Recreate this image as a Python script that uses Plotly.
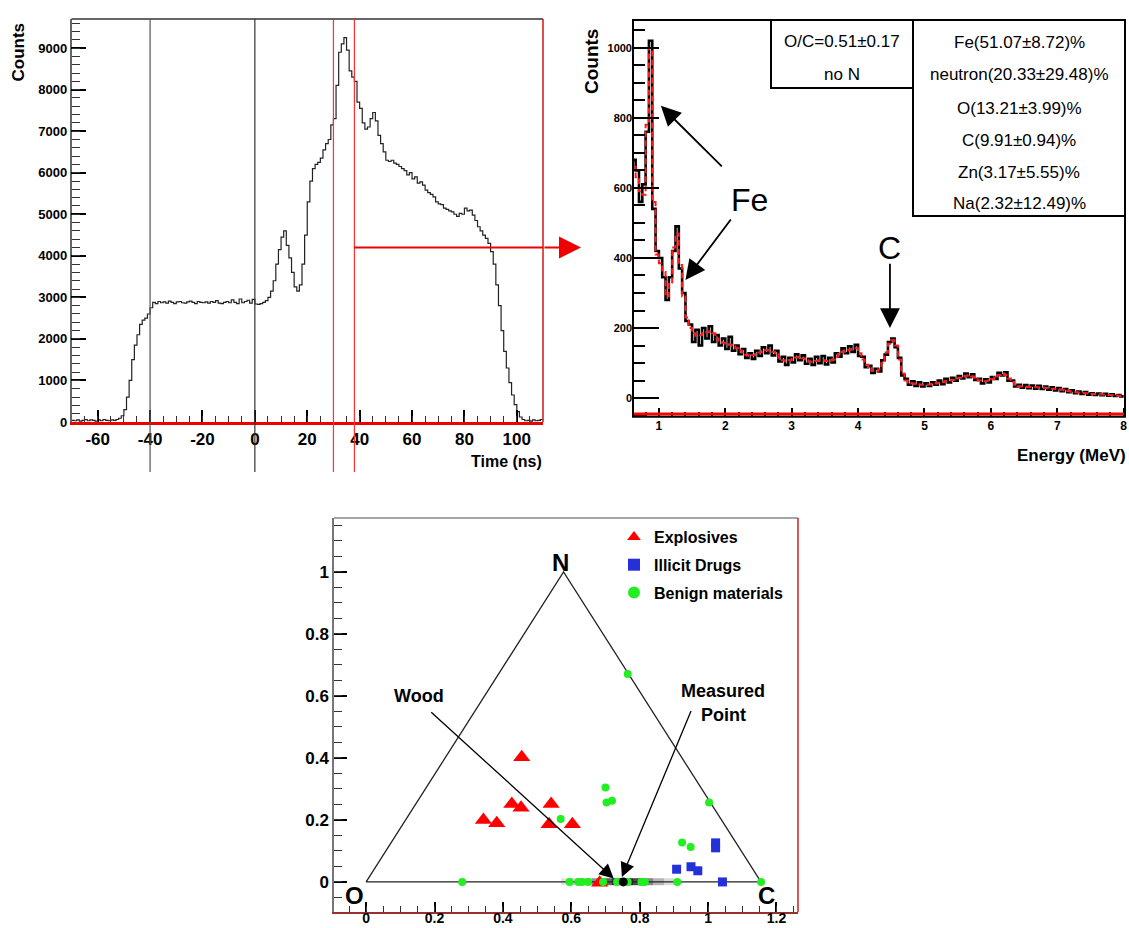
import numpy as np
import plotly.graph_objects as go

W, H = 1129, 928
def px(x): return x / W
def py(y): return 1 - y / H

# ---------------- Panel 1 : time spectrum (1 ns bins starting at -70 ns) ----------------
time_counts = [
    40, 30, 50, 20, 40, 60, 30, 50, 40, 20, 50, 30, 60, 40, 30, 50, 40, 60,
    90, 150, 300, 600, 1000, 1500, 1850, 2100, 2350, 2450, 2500, 2600, 2750, 2880,
    2850, 2900, 2870, 2890, 2860, 2910, 2880, 2850, 2890, 2900, 2870, 2860, 2890, 2910, 2880, 2850,
    2900, 2880, 2870, 2890, 2860, 2900, 2880, 2920, 2860, 2850, 2880, 2900, 2870, 2940, 2880, 2850,
    2960, 2870, 2900, 2930, 2860, 2950,
    2840, 2830, 2850, 2880, 2920, 3000, 3150, 3400, 3800, 4150, 4450, 4600, 4250, 3950, 3600, 3250,
    3150, 3300, 3800, 4500, 5300, 5800, 6100, 6200, 6250, 6350, 6550, 6700, 6800, 7150, 7300, 8100,
    8900, 9100, 9250, 8950, 8450, 8300, 8200, 7700, 7550, 7200, 7050, 7100, 7300, 7450, 7250, 6900,
    6700, 6500, 6300, 6270, 6300, 6230, 6200, 6150, 6100, 6050, 5950, 6000, 5850, 5900, 5750, 5780,
    5700, 5580, 5520, 5480, 5420, 5300, 5250, 5230, 5150, 5120, 5080, 5060, 5000, 4950, 5020, 5000,
    5150, 5080, 5100, 4980, 4850, 4700, 4600, 4500, 4420, 4300, 4100, 3800, 3300, 2800, 2200, 1700,
    1300, 950, 650, 420, 250, 120, 60, 30,
    40, 20, 50, 30, 40, 60,
]
time_start = -70
time_edges = list(range(time_start, time_start + len(time_counts) + 1))
time_black_lines = [-40, 0]
time_red_lines = [30, 38]
time_gate_level = 4200
time_ticks = [-60, -40, -20, 0, 20, 40, 60, 80, 100]
time_ticktext = ["-60", "-40", "-20", "0", "20", "40", "60", "80", "100"]

# ---------------- Panel 2 : energy spectrum (0.05 MeV bins from 0.60 MeV) ----------------
energy_data = [
    680, 650, 560, 610, 760, 1020, 540, 420,
    400, 345, 280, 345, 420, 490, 370, 300, 220, 210,
    160, 195, 150, 200, 170, 205, 160, 180, 150, 170,
    140, 175, 135, 150, 125, 140, 115, 128, 112, 135,
    120, 145, 128, 150, 122, 135, 105, 118, 95, 115,
    102, 125, 108, 122, 98, 112, 95, 118, 100, 120,
    96, 115, 102, 128, 118, 142, 128, 148, 132, 152,
    120, 118, 88, 92, 72, 84, 76, 108, 124, 160,
    170, 145, 115, 65, 55, 38, 48, 35, 45, 33,
    42, 35, 45, 38, 50, 40, 55, 45, 58, 50,
    63, 56, 70, 60, 68, 52, 55, 42, 54, 45,
    60, 55, 72, 65, 74, 50, 50, 33, 38, 30,
    37, 28, 36, 27, 35, 26, 33, 24, 31, 22,
    29, 20, 26, 17, 22, 14, 19, 12, 17, 10,
    14, 9, 13, 8, 12, 7, 11, 6, 9, 5,
]
energy_fit = [
    660, 630, 590, 580, 780, 1000, 560, 410,
    385, 360, 290, 330, 430, 470, 380, 290, 230, 200,
    185, 178, 180, 185, 188, 190, 185, 170, 160, 158,
    155, 152, 148, 142, 136, 130, 124, 120, 122, 126,
    130, 134, 137, 136, 132, 125, 115, 108, 105, 108,
    112, 116, 118, 114, 108, 104, 104, 106, 108, 108,
    106, 106, 110, 118, 126, 132, 136, 138, 140, 142,
    128, 110, 95, 85, 78, 76, 82, 100, 130, 155,
    165, 150, 110, 70, 50, 44, 42, 40, 39, 38,
    38, 39, 40, 42, 44, 46, 48, 50, 52, 55,
    58, 62, 64, 65, 62, 56, 50, 48, 48, 50,
    54, 60, 66, 70, 66, 56, 46, 38, 34, 33,
    33, 32, 32, 31, 31, 30, 29, 28, 27, 26,
    25, 24, 22, 20, 18, 17, 16, 15, 14, 13,
    12, 11, 11, 10, 10, 9, 9, 8, 7, 6,
]
e_start, e_width = 0.60, 0.05
energy_edges = [round(e_start + e_width * i, 3) for i in range(len(energy_data) + 1)]
box1_lines = ["O/C=0.51±0.17", "no N"]
box2_lines = ["Fe(51.07±8.72)%", "neutron(20.33±29.48)%", "O(13.21±3.99)%",
              "C(9.91±0.94)%", "Zn(3.17±5.55)%", "Na(2.32±12.49)%"]

# ---------------- Panel 3 : ternary O-N-C diagram ----------------
tri_x = [0.0, 2 / np.sqrt(3), 1 / np.sqrt(3), 0.0]
tri_y = [0.0, 0.0, 1.0, 0.0]
explosives_x = [0.455, 0.343, 0.382, 0.426, 0.453, 0.541, 0.535, 0.603, 0.683]
explosives_y = [0.402, 0.200, 0.189, 0.251, 0.239, 0.251, 0.186, 0.186, -0.003]
drugs_x = [1.022, 1.022, 0.908, 0.950, 0.970, 1.042]
drugs_y = [0.126, 0.110, 0.041, 0.049, 0.036, 0.000]
benign_x = [0.765, 0.700, 0.703, 0.719, 0.569, 1.003, 0.924, 0.949,
            0.281, 0.595, 0.621, 0.631, 0.649, 0.693, 0.734, 0.765, 0.805, 0.815, 0.910, 1.155]
benign_y = [0.671, 0.305, 0.256, 0.262, 0.203, 0.256, 0.127, 0.113,
            0, 0, 0, 0, 0, 0, 0, 0, 0, 0, 0, 0]
measured_x = [0.752]
measured_y = [0.0]
band_edges = [0.57, 0.60, 0.63, 0.66, 0.69, 0.72, 0.75, 0.78, 0.81, 0.84, 0.87, 0.90]
band_z = [0.12, 0.2, 0.3, 0.45, 0.65, 0.85, 0.9, 0.75, 0.5, 0.3, 0.15]

# ---------------- geometry of the three frames (pixels) ----------------
P1 = dict(L=71.5, R=543, T=19, B=422)
P2 = dict(L=633, R=1125, T=20, B=416.7)
P3 = dict(L=334, R=798, T=518, B=912)
X1R, Y1R = [-70, 110], [0, 9700]
X2R, Y2R = [0.61, 8.02], [-53, 1079]
X3R, Y3R = [-0.094, 1.263], [-0.097, 1.174]

FONT = "Liberation Sans, Arial, sans-serif"
def bold(size, color="black"):
    return dict(family=FONT, size=size, color=color, weight="bold")

fig = go.Figure()

fig.add_trace(go.Scatter(
    x=time_edges, y=time_counts + [time_counts[-1]], mode="lines", line_shape="hv",
    line=dict(color="#222222", width=1.2), xaxis="x", yaxis="y", showlegend=False,
    hoverinfo="skip"))

fig.add_trace(go.Scatter(
    x=energy_edges, y=energy_data + [energy_data[-1]], mode="lines", line_shape="hv",
    line=dict(color="black", width=2.6), xaxis="x2", yaxis="y2", showlegend=False))
fig.add_trace(go.Scatter(
    x=energy_edges, y=energy_fit + [energy_fit[-1]], mode="lines", line_shape="hv",
    line=dict(color="#ff1a1a", width=2, dash="6px,3px"), xaxis="x2", yaxis="y2", showlegend=False))

fig.add_trace(go.Scatter(x=tri_x, y=tri_y, mode="lines", line=dict(color="#222222", width=1.3),
                         xaxis="x3", yaxis="y3", showlegend=False))
fig.add_trace(go.Heatmap(x=band_edges, y=[-0.012, 0.012], z=[band_z], xaxis="x3", yaxis="y3",
                         colorscale=[[0, "rgba(0,0,0,0)"], [1, "rgba(0,0,0,0.95)"]],
                         zmin=0, zmax=1, showscale=False, hoverinfo="skip"))
fig.add_trace(go.Scatter(x=explosives_x, y=explosives_y, mode="markers", name="Explosives",
                         marker=dict(symbol="triangle-up", size=15, color="#ff0000"),
                         xaxis="x3", yaxis="y3", legendgroup="a"))
fig.add_trace(go.Scatter(x=drugs_x, y=drugs_y, mode="markers", name="Illicit Drugs",
                         marker=dict(symbol="square", size=9, color="#2430d8"),
                         xaxis="x3", yaxis="y3", legendgroup="b"))
fig.add_trace(go.Scatter(x=benign_x, y=benign_y, mode="markers", name="Benign materials",
                         marker=dict(symbol="circle", size=8, color="#22ee22"),
                         xaxis="x3", yaxis="y3", legendgroup="c"))
fig.add_trace(go.Scatter(x=measured_x, y=measured_y, mode="markers", showlegend=False,
                         marker=dict(symbol="circle", size=9, color="black"),
                         xaxis="x3", yaxis="y3"))

# empty traces so that the minor-tick overlay axes are drawn
for xa, ya in [("x4", "y"), ("x", "y4"), ("x5", "y2"), ("x2", "y5"), ("x6", "y3"), ("x3", "y6")]:
    fig.add_trace(go.Scatter(x=[], y=[], xaxis=xa, yaxis=ya, showlegend=False, hoverinfo="skip"))

shapes = []
def pline(x0, y0, x1, y1, color, width):
    shapes.append(dict(type="line", xref="paper", yref="paper", x0=px(x0), y0=py(y0),
                       x1=px(x1), y1=py(y1), line=dict(color=color, width=width)))

pline(P1["L"], P1["T"], P1["R"], P1["T"], "#333333", 1.5)
pline(P1["R"], P1["T"], P1["R"], P1["B"], "#dd1111", 1.5)
for xv, col in [(time_black_lines[0], "#555555"), (time_black_lines[1], "#333333")]:
    shapes.append(dict(type="line", xref="x", yref="paper", x0=xv, x1=xv, y0=py(472), y1=py(19),
                       line=dict(color=col, width=1.2)))
for xv in time_red_lines:
    shapes.append(dict(type="line", xref="x", yref="paper", x0=xv, x1=xv, y0=py(472), y1=py(19),
                       line=dict(color="#ff3030", width=1.2)))
shapes.append(dict(type="line", xref="x", yref="y", x0=time_red_lines[1], x1=X1R[1],
                   y0=time_gate_level, y1=time_gate_level, line=dict(color="#ee0000", width=2)))

shapes.append(dict(type="line", xref="x2", yref="y2", x0=X2R[0], x1=X2R[1], y0=-45, y1=-45,
                   line=dict(color="#ff0000", width=3)))
shapes.append(dict(type="rect", xref="paper", yref="paper", x0=px(P2["L"]), x1=px(P2["R"]),
                   y0=py(P2["B"]), y1=py(P2["T"]), line=dict(color="black", width=2)))
shapes.append(dict(type="rect", xref="paper", yref="paper", x0=px(771), x1=px(913),
                   y0=py(88), y1=py(P2["T"]), line=dict(color="black", width=2),
                   fillcolor="white"))
shapes.append(dict(type="rect", xref="paper", yref="paper", x0=px(913), x1=px(P2["R"]),
                   y0=py(216), y1=py(P2["T"]), line=dict(color="black", width=2),
                   fillcolor="white"))

pline(P3["L"], P3["T"], P3["R"], P3["T"], "#888888", 1.5)
pline(P3["R"], P3["T"], P3["R"], P3["B"], "#cc2020", 1.5)

ann = []
def ptext(x, y, text, font, xanchor="center", yanchor="middle", angle=0):
    ann.append(dict(xref="paper", yref="paper", x=px(x), y=py(y), text=text, showarrow=False,
                    font=font, xanchor=xanchor, yanchor=yanchor, textangle=angle))

ptext(18.5, 52, "Counts", bold(17), angle=-90)
ptext(544, 462, "Time (ns)", bold(16), xanchor="right")
ptext(592, 62, "Counts", bold(19), angle=-90)
ptext(1128, 455, "Energy (MeV)", bold(17), xanchor="right")

for txt, yy in zip(box1_lines, [42, 75]):
    ptext(842, yy, txt, dict(family=FONT, size=17, color="black"))
for txt, yy in zip(box2_lines, [43, 75, 108, 140, 173, 203]):
    ptext(1019, yy, txt, dict(family=FONT, size=17, color="black"))

ann.append(dict(xref="paper", yref="paper", x=px(581), y=py(247.5), ax=-(581 - P1["R"]), ay=0,
                text="", showarrow=True, arrowhead=2, arrowsize=2.2, arrowwidth=2,
                arrowcolor="#ee0000"))

def darrow(xr, yr, hx, hy, tx, ty, width, size):
    ann.append(dict(xref=xr, yref=yr, axref=xr, ayref=yr, x=hx, y=hy, ax=tx, ay=ty, text="",
                    showarrow=True, arrowhead=2, arrowsize=size, arrowwidth=width,
                    arrowcolor="black"))

darrow("x2", "y2", 1.03, 834, 1.97, 657, 1.8, 2.2)
darrow("x2", "y2", 1.40, 337, 2.10, 514, 1.8, 2.2)
darrow("x2", "y2", 4.48, 200, 4.48, 388, 1.8, 2.2)
ann.append(dict(xref="x2", yref="y2", x=2.37, y=565, text="Fe", showarrow=False,
                font=dict(family=FONT, size=32, color="black")))
ann.append(dict(xref="x2", yref="y2", x=4.48, y=428, text="C", showarrow=False,
                font=dict(family=FONT, size=32, color="black")))

darrow("x3", "y3", 0.724, 0.011, 0.186, 0.552, 1.3, 2.2)
darrow("x3", "y3", 0.748, 0.016, 0.952, 0.556, 1.3, 2.2)
ann.append(dict(xref="x3", yref="y3", x=0.155, y=0.599, text="Wood", showarrow=False, font=bold(18)))
ann.append(dict(xref="x3", yref="y3", x=1.045, y=0.615, text="Measured", showarrow=False, font=bold(18)))
ann.append(dict(xref="x3", yref="y3", x=1.045, y=0.539, text="Point", showarrow=False, font=bold(18)))
ann.append(dict(xref="x3", yref="y3", x=0.569, y=1.030, text="N", showarrow=False, font=bold(24)))
ann.append(dict(xref="x3", yref="y3", x=-0.034, y=-0.043, text="O", showarrow=False, font=bold(24)))
ann.append(dict(xref="x3", yref="y3", x=1.172, y=-0.043, text="C", showarrow=False, font=bold(24)))

def ax_(**kw):
    d = dict(showgrid=False, zeroline=False, ticks="inside", tickcolor="black",
             fixedrange=True, automargin=False)
    d.update(kw)
    return d

def minor_ax(over, anchor, rng, dtick, ticklen, width=1, color="#333333"):
    return ax_(overlaying=over, anchor=anchor, range=rng, tickmode="linear", tick0=0,
               dtick=dtick, ticklen=ticklen, tickwidth=width, tickcolor=color,
               showticklabels=False, showline=False)

fig.update_layout(
    template="none",
    width=W, height=H, margin=dict(l=0, r=0, t=0, b=0, autoexpand=False),
    paper_bgcolor="white", plot_bgcolor="white",
    xaxis=ax_(domain=[px(P1["L"]), px(P1["R"])], anchor="y",
              showline=True, linecolor="#ee0000", linewidth=2.5,
              range=X1R, tickmode="array", tickvals=time_ticks, ticktext=time_ticktext,
              ticklen=12, tickwidth=1.5, tickfont=bold(17)),
    yaxis=ax_(domain=[py(P1["B"]), py(P1["T"])], anchor="x",
              showline=True, linecolor="#666666", linewidth=1.5,
              range=Y1R, tickmode="linear", tick0=0, dtick=1000, ticklen=15, tickwidth=1.5,
              tickfont=bold(13)),
    xaxis4=minor_ax("x", "y", X1R, 5, 6),
    yaxis4=minor_ax("y", "x", Y1R, 200, 8),
    xaxis2=ax_(domain=[px(P2["L"]), px(P2["R"])], anchor="y2",
               showline=False, range=X2R, tickmode="linear", tick0=0, dtick=1,
               ticklen=9, tickwidth=2, tickfont=bold(12)),
    yaxis2=ax_(domain=[py(P2["B"]), py(P2["T"])], anchor="x2",
               showline=False, range=Y2R, tickmode="linear", tick0=0, dtick=200,
               ticklen=26, tickwidth=2, tickfont=bold(11)),
    xaxis5=minor_ax("x2", "y2", X2R, 0.2, 5, 1.5, "black"),
    yaxis5=minor_ax("y2", "x2", Y2R, 50, 12, 2, "black"),
    xaxis3=ax_(domain=[px(P3["L"]), px(P3["R"])], anchor="y3",
               showline=True, linecolor="#993030", linewidth=1.5,
               range=X3R, tickmode="linear", tick0=0, dtick=0.2,
               ticklen=10, tickwidth=1.5, tickfont=bold(14), ticklabelstandoff=-8),
    yaxis3=ax_(domain=[py(P3["B"]), py(P3["T"])], anchor="x3",
               showline=True, linecolor="#777777", linewidth=1.5,
               range=Y3R, tickmode="linear", tick0=0, dtick=0.2,
               ticklen=13, tickwidth=1.5, tickfont=bold(17)),
    xaxis6=minor_ax("x3", "y3", X3R, 0.05, 6),
    yaxis6=minor_ax("y3", "x3", Y3R, 0.05, 8),
    shapes=shapes, annotations=ann,
    showlegend=True,
    legend=dict(x=px(614), y=py(520), xanchor="left", yanchor="top", font=bold(16),
                bgcolor="rgba(0,0,0,0)", tracegroupgap=4, itemsizing="constant",
                traceorder="grouped", borderwidth=0),
)

fig.write_html("out.html", config={"displayModeBar": False},
               post_script="document.body.style.margin='0';")
